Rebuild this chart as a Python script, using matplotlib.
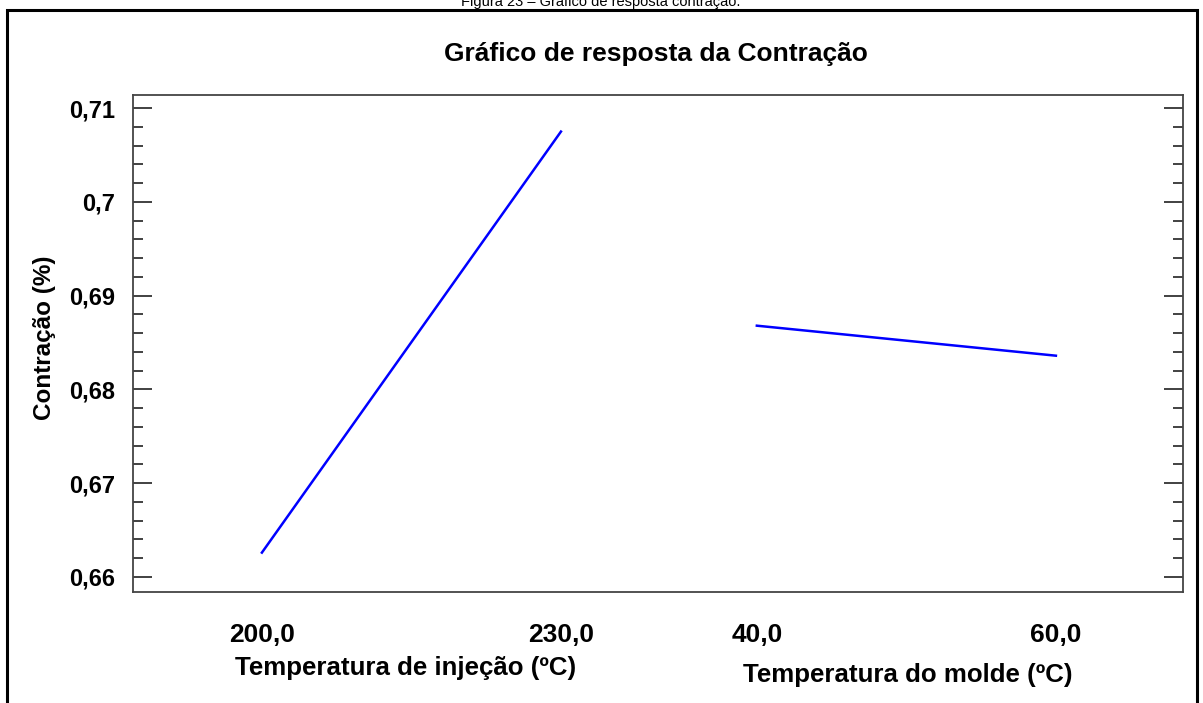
import numpy as np
import matplotlib
matplotlib.use("Agg")
import matplotlib.pyplot as plt
from matplotlib.ticker import MultipleLocator
from matplotlib.patches import Rectangle

# data
temp_injecao = [200.0, 230.0]
contr_injecao = [0.6626, 0.7075]
temp_molde = [40.0, 60.0]
contr_molde = [0.6868, 0.6836]

y_ticks = [0.66, 0.67, 0.68, 0.69, 0.70, 0.71]
y_labels = ["0,66", "0,67", "0,68", "0,69", "0,7", "0,71"]
x_labels = ["200,0", "230,0", "40,0", "60,0"]

#each factor gets one unit of width on the x axis
offsets = [0.0, 1.655]

def to_pos(vals, off):
    vals = np.array(vals)
    return off + (vals - vals.min()) / (vals.max() - vals.min())

plt.rcParams['font.family'] = ['Liberation Sans', 'DejaVu Sans']

fig = plt.figure(figsize=(12.03, 7.03), dpi=100)
ax = fig.add_axes([133/1203, 1 - 592/703, 1050/1203, 497/703])

x1 = to_pos(temp_injecao, offsets[0])
x2 = to_pos(temp_molde, offsets[1])
ax.plot(x1, contr_injecao, color='#0000ff', linewidth=1.8)
ax.plot(x2, contr_molde, color='#0000ff', linewidth=1.8)

ax.set_xlim(-0.431, 3.08)
ax.set_ylim(0.6584, 0.7114)

ax.set_yticks(y_ticks)
ax.set_yticklabels(y_labels, fontsize=17, fontweight='bold')
ax.yaxis.set_minor_locator(MultipleLocator(0.002))
ax.tick_params(axis='y', which='major', direction='in', length=14, width=1.3,
               left=True, right=True, color='#333333', pad=13)
ax.tick_params(axis='y', which='minor', direction='in', length=7, width=1.3,
               left=True, right=True, color='#333333')

ax.set_xticks(list(x1) + list(x2))
ax.set_xticklabels(x_labels, fontsize=19, fontweight='bold')
ax.tick_params(axis='x', length=0, pad=22)

for s in ax.spines.values():
    s.set_color('#444444')
    s.set_linewidth(1.3)

fig.text(45/1203, 1 - 338/703, "Contração (%)", rotation=90, ha='center', va='center',
         fontsize=17.5, fontweight='bold')

fig.text(656/1203, 1 - 54/703, "Gráfico de resposta da Contração", ha='center', va='center',
         fontsize=19, fontweight='bold')
fig.text(406/1203, 1 - 668/703, "Temperatura de injeção (ºC)", ha='center', va='center',
         fontsize=18.6, fontweight='bold')
fig.text(908/1203, 1 - 675/703, "Temperatura do molde (ºC)", ha='center', va='center',
         fontsize=18.6, fontweight='bold')

#caption of the document, cut at the top
fig.text(601/1203, 1 - 6/703, "Figura 23 – Gráfico de resposta contração.", ha='center',
         va='baseline', fontsize=10.5)

#outer frame
fig.patches.append(Rectangle((7/1203, -0.05), 1190/1203, 1.05 - 10/703, transform=fig.transFigure,
                             fill=False, edgecolor='black', linewidth=2.2))

fig.savefig("out.png", dpi=100)
